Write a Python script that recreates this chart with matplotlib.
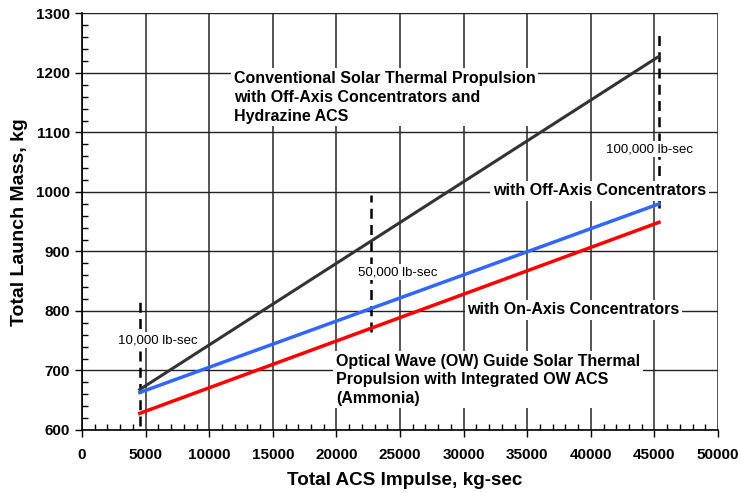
import matplotlib
matplotlib.use("Agg")
import matplotlib.pyplot as plt
from matplotlib.ticker import MultipleLocator

plt.rcParams['font.family'] = ['Liberation Sans', 'DejaVu Sans']

# Data (kg-sec, kg)
impulse = [4536, 45360]
conventional_hydrazine = [668, 1228]
off_axis = [663, 980]
on_axis = [628, 949]

marker_impulse = [4536, 22680, 45360]
marker_labels = ["10,000 lb-sec", "50,000 lb-sec", "100,000 lb-sec"]
marker_ranges = [(606, 818), (765, 995), (973, 1264)]
marker_label_pos = [(5950, 751), (24800, 865), (44600, 1072)]

x_ticks = list(range(0, 50001, 5000))
y_ticks = list(range(600, 1301, 100))

fig = plt.figure(figsize=(7.41, 4.93), dpi=100)
ax = fig.add_axes([0.1107, 0.1278, 0.8583, 0.8449])

ax.set_xlim(0, 50000)
ax.set_ylim(600, 1300)
ax.set_xticks(x_ticks)
ax.set_yticks(y_ticks)
ax.xaxis.set_minor_locator(MultipleLocator(1000))
ax.yaxis.set_minor_locator(MultipleLocator(20))
ax.tick_params(which='major', direction='out', length=5, width=1, labelsize=11)
ax.tick_params(which='minor', direction='in', length=4, width=1)
for lab in ax.get_xticklabels() + ax.get_yticklabels():
    lab.set_fontweight('bold')
ax.tick_params(axis='x', pad=8)

ax.xaxis.grid(True, which='major', color='#555555', lw=1.4, zorder=0)
ax.yaxis.grid(True, which='major', color='#222222', lw=1.0, zorder=0)
ax.set_axisbelow(True)
for s in ['top', 'right']:
    ax.spines[s].set_visible(False)
ax.spines['left'].set_linewidth(1.2)
ax.spines['bottom'].set_linewidth(1.2)

ax.set_xlabel('Total ACS Impulse, kg-sec', fontsize=13.6, fontweight='bold', labelpad=7)
ax.xaxis.label.set_x(0.508)
ax.set_ylabel('Total Launch Mass, kg', fontsize=14, fontweight='bold', labelpad=6)

# Dashed impulse markers
for xm, (y0, y1) in zip(marker_impulse, marker_ranges):
    ax.plot([xm, xm], [y0, y1], color='black', lw=1.8, ls=(0, (4, 2.5)), zorder=3)

ax.plot(impulse, conventional_hydrazine, color='#333333', lw=2.2, zorder=4)
ax.plot(impulse, off_axis, color='#3366ff', lw=2.5, zorder=4)
ax.plot(impulse, on_axis, color='#ff0000', lw=2.5, zorder=4)

box = dict(facecolor='white', edgecolor='none', pad=1.5)
for lbl, (xp, yp) in zip(marker_labels, marker_label_pos):
    ax.text(xp, yp, lbl, fontsize=9.5, ha='center', va='center', bbox=box, zorder=5)

ax.text(11950, 1204, 'Conventional Solar Thermal Propulsion\nwith Off-Axis Concentrators and\nHydrazine ACS',
        fontsize=11.5, fontweight='bold', ha='left', va='top', linespacing=1.33,
        bbox=dict(facecolor='white', edgecolor='none', pad=2), zorder=5)
ax.text(32300, 1002, 'with Off-Axis Concentrators', fontsize=11.5, fontweight='bold',
        ha='left', va='center', bbox=dict(facecolor='white', edgecolor='none', pad=2), zorder=5)
ax.text(30300, 802, 'with On-Axis Concentrators', fontsize=11.5, fontweight='bold',
        ha='left', va='center', bbox=dict(facecolor='white', edgecolor='none', pad=2), zorder=5)
ax.text(19950, 728, 'Optical Wave (OW) Guide Solar Thermal\nPropulsion with Integrated OW ACS\n(Ammonia)',
        fontsize=11.5, fontweight='bold', ha='left', va='top', linespacing=1.28,
        bbox=dict(facecolor='white', edgecolor='none', pad=2), zorder=5)

fig.savefig('out.png', dpi=100)
